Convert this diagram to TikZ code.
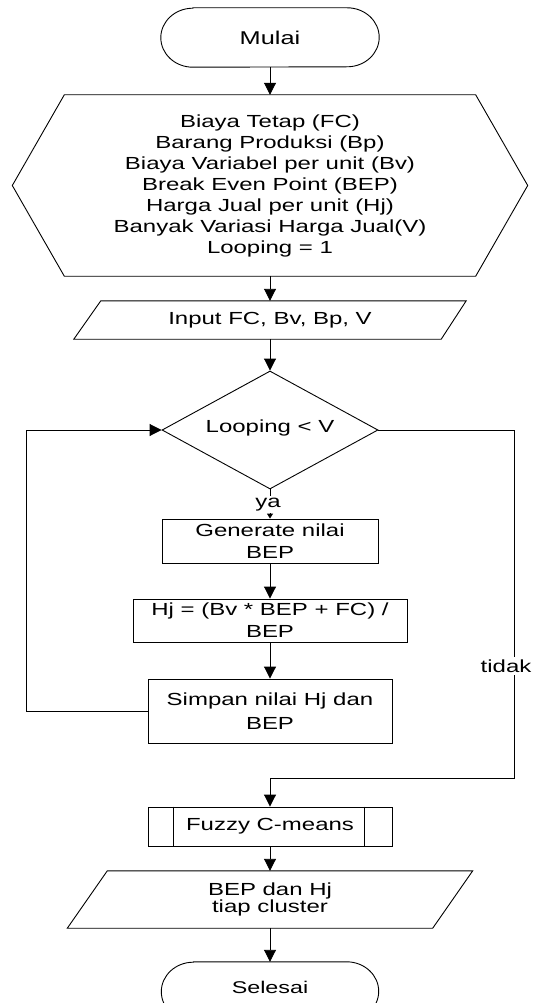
\documentclass[tikz,border=0pt]{standalone}
\usepackage{fontspec}
\setmainfont{Liberation Sans}[FakeStretch=1.37]
\usetikzlibrary{arrows.meta,shapes.geometric}

\tikzset{
  line/.style={line width=0.9pt, draw=black},
  flow/.style={line, -{Triangle[width=12pt,length=12pt]}},
  tinyflow/.style={line, -{Triangle[width=6pt,length=5pt]}},
  txt/.style={font=\fontsize{17.5}{22}\selectfont, align=center},
  ghost/.style={rectangle, inner sep=0pt, txt},
  box/.style={rectangle, draw, line, inner sep=0pt, txt},
  lbl/.style={fill=white, inner sep=3pt, font=\fontsize{17.5}{21}\selectfont},
}

\begin{document}
\begin{tikzpicture}[x=1pt,y=-1pt]
\useasboundingbox (0,0) rectangle (540,1003);
\clip (0,0) rectangle (540,1003);

% start terminal
\node[ghost, minimum width=218pt, minimum height=59pt,
      font=\fontsize{18.5}{22}\selectfont] (mulai) at (270,37.5) {Mulai};
\draw[line] ([xshift=32pt]mulai.north west) -- ([xshift=-32pt]mulai.north east)
  arc[start angle=90, end angle=-90, x radius=32pt, y radius=29.5pt]
  -- ([xshift=32pt]mulai.south west)
  arc[start angle=270, end angle=90, x radius=32pt, y radius=29.5pt] -- cycle;

% preparation (hexagon) with the variables
\node[ghost, minimum width=515pt, minimum height=181pt,
      font=\fontsize{17.5}{21}\selectfont] (init) at (270,185.5)
  {Biaya Tetap (FC)\\ Barang Produksi (Bp)\\ Biaya Variabel per unit (Bv)\\
   Break Even Point (BEP)\\ Harga Jual per unit (Hj)\\
   Banyak Variasi Harga Jual(V)\\ Looping = 1};
\draw[line] (init.west) -- ([xshift=52pt]init.north west)
  -- ([xshift=-52pt]init.north east) -- (init.east)
  -- ([xshift=-52pt]init.south east) -- ([xshift=52pt]init.south west) -- cycle;

% input (parallelogram)
\node[ghost, minimum width=392pt, minimum height=38pt] (input) at (270,320)
  {Input FC, Bv, Bp, V};
\draw[line] ([xshift=27pt]input.north west) -- (input.north east)
  -- ([xshift=-25pt]input.south east) -- (input.south west) -- cycle;

% decision
\node[diamond, draw, line, aspect=1.83, inner sep=0pt,
      minimum width=216pt, minimum height=118pt, txt] (cond) at (270,430)
  {\raisebox{8pt}{Looping < V}};

% loop body
\node[box, minimum width=216pt, minimum height=44pt] (gen) at (270,541)
  {Generate nilai\\ BEP};
\node[box, minimum width=274pt, minimum height=43pt] (hj) at (270,620.5)
  {Hj = (Bv * BEP + FC) /\\ BEP};
\node[box, minimum width=244pt, minimum height=64pt,
      font=\fontsize{17.5}{24}\selectfont] (simpan) at (270,711)
  {Simpan nilai Hj dan\\ BEP};

% predefined process
\node[box, minimum width=244pt, minimum height=39pt] (fcm) at (270,826.5)
  {Fuzzy C-means};
\draw[line] ([xshift=26pt]fcm.north west) -- ([xshift=26pt]fcm.south west);
\draw[line] ([xshift=-28pt]fcm.north east) -- ([xshift=-28pt]fcm.south east);

% output (parallelogram)
\node[ghost, minimum width=405pt, minimum height=57pt,
      font=\fontsize{17.5}{17}\selectfont] (out) at (270,899.5)
  {BEP dan Hj\\ tiap cluster};
\draw[line] ([xshift=40pt]out.north west) -- (out.north east)
  -- ([xshift=-40pt]out.south east) -- (out.south west) -- cycle;

% end terminal
\node[ghost, minimum width=217pt, minimum height=59pt,
      font=\fontsize{17}{21}\selectfont] (selesai) at (270,991.5)
  {\raisebox{9pt}{Selesai}};
\draw[line] ([xshift=32pt]selesai.north west) -- ([xshift=-32pt]selesai.north east)
  arc[start angle=90, end angle=-90, x radius=32pt, y radius=29.5pt]
  -- ([xshift=32pt]selesai.south west)
  arc[start angle=270, end angle=90, x radius=32pt, y radius=29.5pt] -- cycle;

% connectors
\coordinate (loopL) at (26,430);
\coordinate (noR) at (514,778);

\draw[flow] (mulai.south) -- (init.north);
\draw[flow] (init.south) -- (input.north);
\draw[flow] (input.south) -- (cond.north);
\draw[tinyflow] (cond.south) -- (gen.north);
\draw[flow] (gen.south) -- (hj.north);
\draw[flow] (hj.south) -- (simpan.north);
\draw[flow] (simpan.west) -| (loopL) -- (cond.west);
\draw[flow] (cond.east) -| (noR) -| (fcm.north);
\draw[flow] (fcm.south) -- (out.north);
\draw[flow] (out.south) -- (selesai.north);

% branch labels
\node[lbl, inner sep=2pt] (ya) at (268,504.5) {ya};
\node[lbl] (tidak) at (506,666) {tidak};
\end{tikzpicture}
\end{document}
